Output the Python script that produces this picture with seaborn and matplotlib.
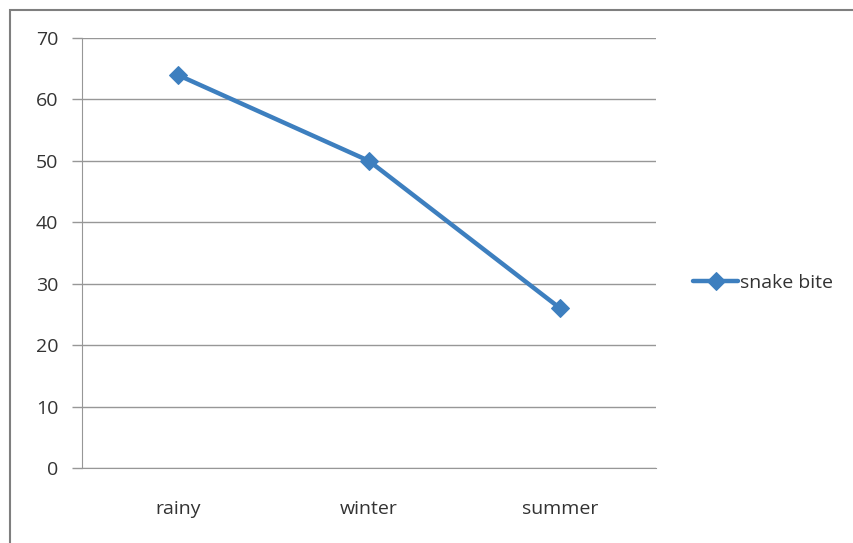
import matplotlib
matplotlib.use('Agg')
import matplotlib.pyplot as plt
import seaborn as sns
import pandas as pd
from matplotlib.patches import Rectangle

# Data
seasons = ['rainy', 'winter', 'summer']
snake_bite = [64, 50, 26]
y_ticks = [0, 10, 20, 30, 40, 50, 60, 70]

df = pd.DataFrame({'Season': seasons, 'snake bite': snake_bite})

sns.set_style('white')
plt.rcParams['font.family'] = ['Open Sans', 'DejaVu Sans']

line_color = '#3d7fbf'
grid_color = '#979797'
text_color = '#333333'

fig = plt.figure(figsize=(8.54, 5.43), dpi=100)
ax = fig.add_axes([0.096, 0.138, 0.672, 0.792])

# outer chart frame (only top and left edges are visible in the crop)
top = 1 - 10 / 543
fig.patches.append(Rectangle((0.0117, -0.05), 1.2, top + 0.05, transform=fig.transFigure,
                             fill=False, edgecolor='#7f7f7f', linewidth=1.5))

sns.lineplot(data=df, x='Season', y='snake bite', ax=ax, color=line_color,
             linewidth=3.2, marker='D', markersize=9, markeredgecolor=line_color,
             label='snake bite', sort=False)

ax.set_xlim(-0.5, 2.5)
ax.set_ylim(0, 70)
ax.set_yticks(y_ticks)
ax.set_xticks([0, 1, 2])
ax.set_xticklabels(seasons)
ax.set_xlabel('')
ax.set_ylabel('')

ax.yaxis.grid(True, color=grid_color, linewidth=1)
ax.xaxis.grid(False)
for side in ['top', 'right']:
    ax.spines[side].set_visible(False)
ax.spines['left'].set_color(grid_color)
ax.spines['bottom'].set_color(grid_color)

# category boundary ticks on the x axis
ax.set_xticks([-0.5, 0.5, 1.5, 2.5], minor=True)
ax.tick_params(axis='x', which='major', length=0, pad=23, labelsize=14, labelcolor=text_color)
ax.tick_params(axis='x', which='minor', length=6, color=grid_color, width=1, direction='out')
ax.tick_params(axis='y', which='major', length=7, color=grid_color, width=1, pad=10,
               labelsize=14, labelcolor=text_color, left=True)

leg = ax.legend(loc='center left', bbox_to_anchor=(1.035, 0.43), frameon=False,
                fontsize=14, handlelength=2.3, handletextpad=0.1, labelcolor=text_color)

fig.savefig('out.png', dpi=100)
